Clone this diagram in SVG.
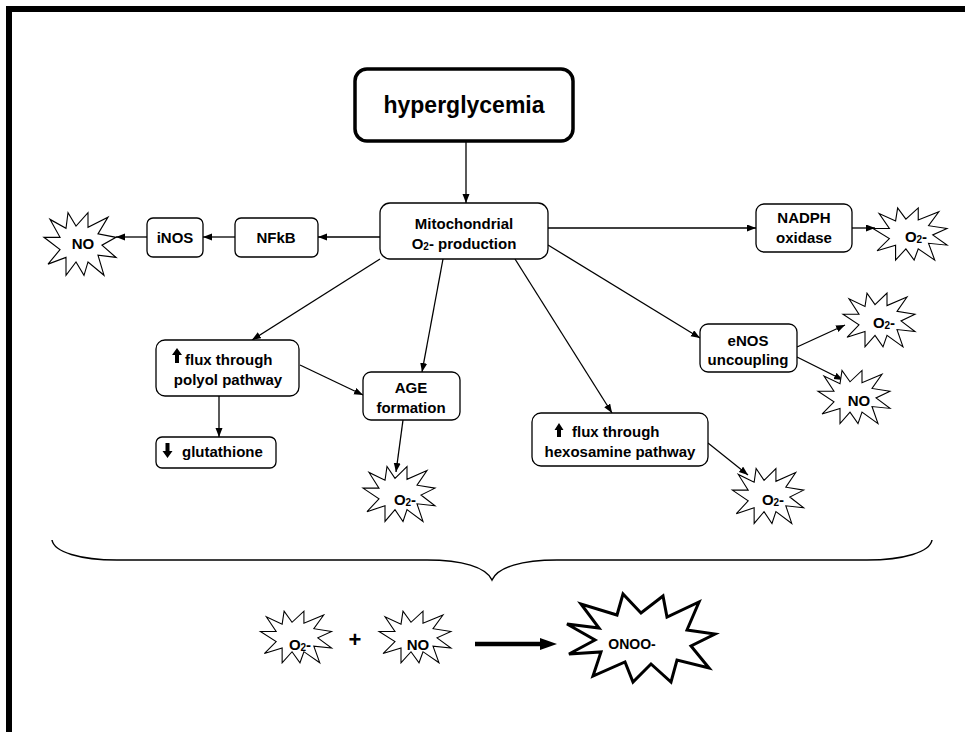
<svg xmlns="http://www.w3.org/2000/svg" width="965" height="732" viewBox="0 0 965 732">
<style>
text{font-family:"Liberation Sans",Arial,sans-serif;font-weight:bold;fill:#000;text-anchor:middle}
.t{font-size:15px}
.st{font-size:15px}
.sub{font-size:10px}
.box{fill:#fff;stroke:#000;stroke-width:1.3}
.star{fill:#fff;stroke:#000;stroke-width:1.1}
.conn line{stroke:#000;stroke-width:1.3;marker-end:url(#ah)}
</style>
<defs>
<marker id="ah" markerUnits="userSpaceOnUse" markerWidth="10" markerHeight="8" refX="9" refY="3.5" orient="auto">
<path d="M0,0 L9,3.5 L0,7 Z" fill="#000"/>
</marker>
<path id="star" d="M-36,-6 L-20,-6 L-30,-22 L-14,-14 L-12,-28 L-4,-16 L8,-28 L8,-15 L28,-24 L18,-9 L36,-6 L22,1 L36,12 L18,10 L24,28 L8,16 L4,28 L-4,16 L-14,28 L-14,12 L-32,18 L-20,5 Z"/>
</defs>
<rect width="965" height="732" fill="#fff"/>
<rect x="9" y="9" width="1000" height="800" fill="none" stroke="#000" stroke-width="6"/>

<g class="conn" id="connectors">
<line x1="466" y1="141" x2="466" y2="203"/>
<line x1="380" y1="237" x2="318" y2="237"/>
<line x1="235" y1="237" x2="203" y2="237"/>
<line x1="147" y1="237" x2="116" y2="237"/>
<line x1="548" y1="228" x2="756" y2="228"/>
<line x1="852" y1="228" x2="875" y2="228"/>
<line x1="548" y1="245" x2="700" y2="338"/>
<line x1="797" y1="347" x2="845" y2="325"/>
<line x1="797" y1="357" x2="843" y2="380"/>
<line x1="515" y1="259" x2="612" y2="413"/>
<line x1="708" y1="443" x2="748" y2="475"/>
<line x1="443" y1="259" x2="422" y2="372"/>
<line x1="403" y1="420" x2="396" y2="472"/>
<line x1="380" y1="259" x2="252" y2="340"/>
<line x1="300" y1="365" x2="363" y2="395"/>
<line x1="219" y1="396" x2="219" y2="437"/>
</g>

<g id="hyperglycemia">
<rect x="355" y="69" width="218" height="72" rx="12" fill="#fff" stroke="#000" stroke-width="3.5"/>
<text x="464" y="113" style="font-size:23px">hyperglycemia</text>
</g>

<g id="mito">
<rect class="box" x="380" y="203" width="168" height="56" rx="10"/>
<text class="t" x="464" y="229">Mitochondrial</text>
<text class="t" x="464" y="249">O<tspan class="sub" dy="1">2</tspan><tspan dy="-1">- production</tspan></text>
</g>

<g id="nfkb">
<rect class="box" x="235" y="218" width="83" height="39" rx="6"/>
<text class="t" x="276" y="243">NFkB</text>
</g>

<g id="inos">
<rect class="box" x="147" y="218" width="56" height="39" rx="6"/>
<text class="t" x="175" y="243">iNOS</text>
</g>

<g id="no-left">
<use href="#star" class="star" transform="translate(80,244) scale(1,1.12)"/>
<text class="st" x="83" y="249">NO</text>
</g>

<g id="nadph">
<rect class="box" x="756" y="204" width="96" height="48" rx="8"/>
<text class="t" x="804" y="223">NADPH</text>
<text class="t" x="804" y="243">oxidase</text>
</g>

<g id="o2-nadph">
<use href="#star" class="star" transform="translate(910,234) scale(1.03,0.93)"/>
<text class="st" x="916" y="242">O<tspan class="sub" dy="1">2</tspan><tspan dy="-1">-</tspan></text>
</g>

<g id="enos">
<rect class="box" x="700" y="324" width="97" height="48" rx="8"/>
<text class="t" x="748" y="346">eNOS</text>
<text class="t" x="748" y="365">uncoupling</text>
</g>

<g id="o2-enos">
<use href="#star" class="star" transform="translate(879,320) scale(1,0.96)"/>
<text class="st" x="884" y="328">O<tspan class="sub" dy="1">2</tspan><tspan dy="-1">-</tspan></text>
</g>

<g id="no-enos">
<use href="#star" class="star" transform="translate(854,397) scale(1,0.95)"/>
<text class="st" x="859" y="406">NO</text>
</g>

<g id="hexosamine">
<rect class="box" x="532" y="413" width="176" height="53" rx="9"/>
<path d="M559,423 L563.5,430 L561,430 L561,437 L557,437 L557,430 L554.5,430 Z" fill="#000"/>
<text class="t" x="572" y="437" style="text-anchor:start">flux through</text>
<text class="t" x="620" y="457">hexosamine pathway</text>
</g>

<g id="o2-hexosamine">
<use href="#star" class="star" transform="translate(768,496) scale(0.99,0.98)"/>
<text class="st" x="773" y="505">O<tspan class="sub" dy="1">2</tspan><tspan dy="-1">-</tspan></text>
</g>

<g id="age">
<rect class="box" x="363" y="372" width="97" height="48" rx="8"/>
<text class="t" x="411" y="393">AGE</text>
<text class="t" x="411" y="413">formation</text>
</g>

<g id="o2-age">
<use href="#star" class="star" transform="translate(399,494) scale(1,0.98)"/>
<text class="st" x="405" y="505">O<tspan class="sub" dy="1">2</tspan><tspan dy="-1">-</tspan></text>
</g>

<g id="polyol">
<rect class="box" x="156" y="340" width="143" height="56" rx="9"/>
<path d="M177,348 L182,355 L179,355 L179,363 L175,363 L175,355 L172,355 Z" fill="#000"/>
<text class="t" x="185" y="365" style="text-anchor:start">flux through</text>
<text class="t" x="228" y="385">polyol pathway</text>
</g>

<g id="glutathione">
<rect class="box" x="156" y="437" width="120" height="31" rx="6"/>
<path d="M167.5,458 L172.5,451 L169.5,451 L169.5,443 L165.5,443 L165.5,451 L162.5,451 Z" fill="#000"/>
<text class="t" x="182" y="457" style="text-anchor:start">glutathione</text>
</g>

<g id="brace">
<path d="M52,540 C54,552 80,560 117,560 L427,560 C462,560 486,567 492,580 C498,567 522,560 557,560 L867,560 C904,560 930,552 932,540" fill="none" stroke="#000" stroke-width="1.5"/>
</g>

<g id="o2-bottom">
<use href="#star" class="star" transform="translate(296,637) scale(0.99,0.92)"/>
<text class="st" x="300" y="650">O<tspan class="sub" dy="1">2</tspan><tspan dy="-1">-</tspan></text>
</g>

<text x="355" y="647" style="font-size:22px">+</text>

<g id="no-bottom">
<use href="#star" class="star" transform="translate(415,637) scale(1,0.92)"/>
<text class="st" x="418" y="650">NO</text>
</g>

<g id="reaction-arrow">
<line x1="475" y1="644" x2="542" y2="644" stroke="#000" stroke-width="4.5"/>
<path d="M540,638 L557,644 L540,650 Z" fill="#000"/>
</g>

<g id="onoo">
<path d="M567,624 L599,628 L581,604 L617,615 L623,594 L641,613 L663,596 L667,617 L699,602 L687,630 L715,634 L691,646 L709,668 L677,660 L671,682 L651,664 L633,682 L625,662 L593,676 L601,652 L569,654 L595,640 Z" fill="#fff" stroke="#000" stroke-width="3" stroke-linejoin="miter"/>
<text x="632" y="649" style="font-size:14px">ONOO-</text>
</g>
</svg>
